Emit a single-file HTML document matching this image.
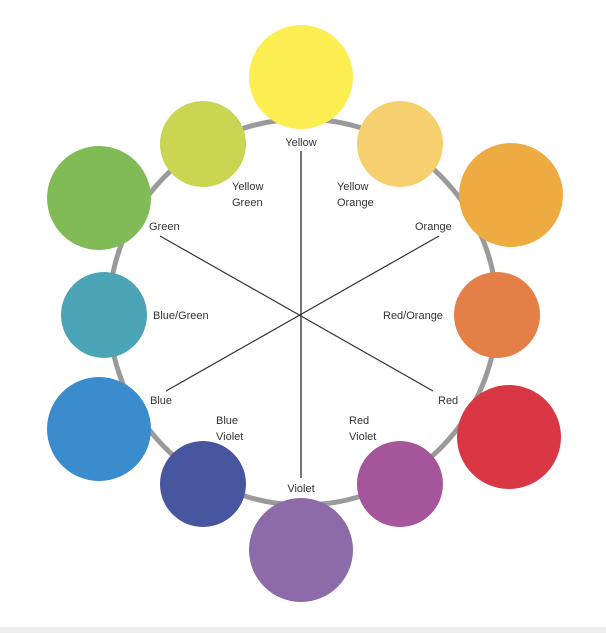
<!DOCTYPE html>
<html><head><meta charset="utf-8"><style>
html,body{margin:0;padding:0;background:#fff;width:606px;height:633px;overflow:hidden}
svg{display:block}
text{font-family:"Liberation Sans",sans-serif;font-size:11px;fill:#333}
</style></head><body>
<svg width="606" height="633" viewBox="0 0 606 633">
<rect x="0" y="627" width="606" height="6" fill="#ededed"/>
<ellipse cx="303" cy="312" rx="194" ry="193" fill="none" stroke="#9a9a9a" stroke-width="5"/>
<line x1="301" y1="151" x2="301" y2="478" stroke="#777" stroke-width="2"/>
<line x1="160" y1="236" x2="433" y2="391" stroke="#333" stroke-width="1.2"/>
<line x1="439" y1="236" x2="166" y2="391" stroke="#333" stroke-width="1.2"/>
<circle cx="301" cy="77" r="52" fill="#fdee52"/>
<circle cx="203" cy="144" r="43" fill="#cad651"/>
<circle cx="400" cy="144" r="43" fill="#f6d06f"/>
<circle cx="99" cy="198" r="52" fill="#80bb55"/>
<circle cx="511" cy="195" r="52" fill="#eeab42"/>
<circle cx="104" cy="315" r="43" fill="#4ba5b6"/>
<circle cx="497" cy="315" r="43" fill="#e57f48"/>
<circle cx="99" cy="429" r="52" fill="#3b8ccd"/>
<circle cx="509" cy="437" r="52" fill="#d93743"/>
<circle cx="203" cy="484" r="43" fill="#48569f"/>
<circle cx="400" cy="484" r="43" fill="#a5569b"/>
<circle cx="301" cy="550" r="52" fill="#8d6aa8"/>
<text x="301" y="146" text-anchor="middle">Yellow</text>
<text x="232" y="190">Yellow</text><text x="232" y="206">Green</text>
<text x="337" y="190">Yellow</text><text x="337" y="206">Orange</text>
<text x="149" y="230">Green</text>
<text x="415" y="230">Orange</text>
<text x="153" y="319">Blue/Green</text>
<text x="383" y="319">Red/Orange</text>
<text x="150" y="404">Blue</text>
<text x="438" y="404">Red</text>
<text x="216" y="424">Blue</text><text x="216" y="440">Violet</text>
<text x="349" y="424">Red</text><text x="349" y="440">Violet</text>
<text x="301" y="492" text-anchor="middle">Violet</text>
</svg>
</body></html>
